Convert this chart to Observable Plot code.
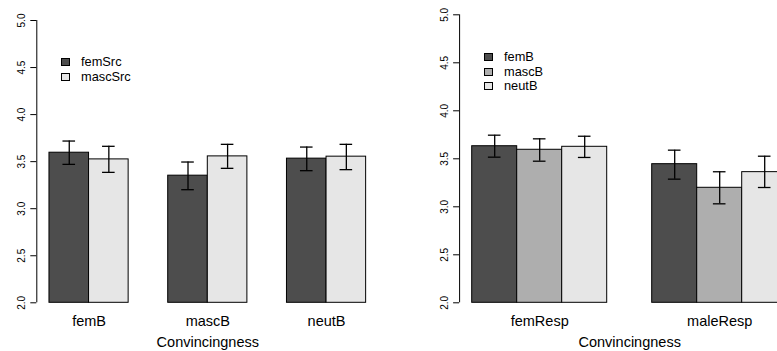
<!DOCTYPE html>
<html>
<head>
<meta charset="utf-8">
<script src="https://cdn.jsdelivr.net/npm/d3@7"></script>
<script src="https://cdn.jsdelivr.net/npm/@observablehq/plot@0.6"></script>
<style>
  html, body { margin: 0; padding: 0; background: #fff; overflow: hidden; }
  #wrap { position: relative; width: 777px; height: 351px; overflow: hidden; font-family: "Liberation Sans", Arial, Helvetica, sans-serif; }
  .panel { position: absolute; top: 0; }
  .legend { position: absolute; font-size: 12.8px; color: #000; }
  .legend .item { position: absolute; white-space: nowrap; height: 14px; line-height: 14px; }
  .legend .sw { position: absolute; left: 0; top: 3px; width: 7px; height: 6px; border: 1px solid #000; }
  .legend .lab { position: absolute; left: 20px; top: 0; }
</style>
</head>
<body>
<div id="wrap"></div>
<script>
// ---------- data ----------
const yTicks = [2.0, 2.5, 3.0, 3.5, 4.0, 4.5, 5.0];
const xTitle = "Convincingness";

// Left panel: groups on x, series = source gender
const leftGroups = ["femB", "mascB", "neutB"];
const leftSeries = ["femSrc", "mascSrc"];
const leftColors = ["#4D4D4D", "#E6E6E6"];
const leftFemSrcMean  = [3.595, 3.351, 3.532];
const leftFemSrcLow   = [3.471, 3.202, 3.404];
const leftFemSrcHigh  = [3.719, 3.496, 3.655];
const leftMascSrcMean = [3.524, 3.556, 3.553];
const leftMascSrcLow  = [3.386, 3.429, 3.415];
const leftMascSrcHigh = [3.663, 3.684, 3.684];

// Right panel: groups = respondent gender, series = bias type
const rightGroups = ["femResp", "maleResp"];
const rightSeries = ["femB", "mascB", "neutB"];
const rightColors = ["#4D4D4D", "#AEAEAE", "#E6E6E6"];
const rightFemBMean  = [3.631, 3.444];
const rightFemBLow   = [3.517, 3.288];
const rightFemBHigh  = [3.746, 3.590];
const rightMascBMean = [3.594, 3.198];
const rightMascBLow  = [3.475, 3.031];
const rightMascBHigh = [3.708, 3.365];
const rightNeutBMean = [3.625, 3.361];
const rightNeutBLow  = [3.514, 3.201];
const rightNeutBHigh = [3.735, 3.527];

// ---------- helpers ----------
function buildRows(groups, series, means, lows, highs) {
  const n = series.length;
  const rows = [];
  groups.forEach((g, gi) => {
    series.forEach((s, si) => {
      const left = 1 + gi * (n + 1) + si; // R barplot(beside=TRUE) layout
      rows.push({group: g, series: s, si, x1: left, x2: left + 1, xc: left + 0.5,
                 mean: means[si][gi], lo: lows[si][gi], hi: highs[si][gi]});
    });
  });
  return rows;
}

function panel({groups, series, colors, means, lows, highs, width, marginLeft, marginRight, marginTop}) {
  const n = series.length;
  const rows = buildRows(groups, series, means, lows, highs);
  const xmin = 1, xmax = 1 + (groups.length - 1) * (n + 1) + n;
  const pad = 0.04 * (xmax - xmin);
  const centers = groups.map((g, gi) => 1 + gi * (n + 1) + n / 2);
  const font = "Liberation Sans, Arial, Helvetica, sans-serif";
  return Plot.plot({
    width, height: 351,
    marginLeft, marginRight, marginTop, marginBottom: 48.7,
    style: {fontFamily: font, background: "white", overflow: "visible"},
    x: {domain: [xmin - pad, xmax + pad]},
    y: {domain: [2, 5]},
    color: {domain: series, range: colors},
    marks: [
      Plot.rectY(rows, {x1: "x1", x2: "x2", y1: () => 2, y2: "mean", fill: "series", stroke: "black", strokeWidth: 1}),
      Plot.ruleX(rows, {x: "xc", y1: "lo", y2: "hi", stroke: "black", strokeWidth: 1.3}),
      Plot.ruleY(rows, {x1: "xc", x2: "xc", y: "lo", insetLeft: -6.3, insetRight: -6.3, stroke: "black", strokeWidth: 1.3}),
      Plot.ruleY(rows, {x1: "xc", x2: "xc", y: "hi", insetLeft: -6.3, insetRight: -6.3, stroke: "black", strokeWidth: 1.3}),
      Plot.ruleX([xmin - pad], {y1: 2, y2: 5, stroke: "black", strokeWidth: 1}),
      Plot.axisY({ticks: yTicks, tickFormat: d => d.toFixed(1), tickSize: 6, tickPadding: 6,
                  tickRotate: -90, fontSize: 10, label: null, stroke: "black"}),
      Plot.axisX({ticks: centers, tickFormat: (d) => groups[centers.indexOf(d)], tickSize: 0,
                  tickPadding: 12.5, fontSize: 14.5, label: null}),
      Plot.text([xTitle], {frameAnchor: "bottom", dy: 40, lineAnchor: "middle", fontSize: 14.5, fill: "black"})
    ]
  });
}

function legend(series, colors, left, top) {
  const div = document.createElement("div");
  div.className = "legend";
  div.style.left = left + "px";
  div.style.top = top + "px";
  series.forEach((s, i) => {
    const item = document.createElement("div");
    item.className = "item";
    item.style.top = (i * 14.5) + "px";
    const sw = document.createElement("span");
    sw.className = "sw";
    sw.style.background = colors[i];
    const lab = document.createElement("span");
    lab.className = "lab";
    lab.textContent = s;
    item.appendChild(sw); item.appendChild(lab);
    div.appendChild(item);
  });
  return div;
}

const wrap = document.getElementById("wrap");

const leftPlot = panel({
  groups: leftGroups, series: leftSeries, colors: leftColors,
  means: [leftFemSrcMean, leftMascSrcMean],
  lows: [leftFemSrcLow, leftMascSrcLow],
  highs: [leftFemSrcHigh, leftMascSrcHigh],
  width: 390, marginLeft: 36.3, marginRight: 11.7, marginTop: 20
});
leftPlot.classList.add("panel");
leftPlot.style.left = "0px";
wrap.appendChild(leftPlot);

const rightPlot = panel({
  groups: rightGroups, series: rightSeries, colors: rightColors,
  means: [rightFemBMean, rightMascBMean, rightNeutBMean],
  lows: [rightFemBLow, rightMascBLow, rightNeutBLow],
  highs: [rightFemBHigh, rightMascBHigh, rightNeutBHigh],
  width: 420, marginLeft: 69.1, marginRight: 10.7, marginTop: 14.3
});
rightPlot.classList.add("panel");
rightPlot.style.left = "390px";
wrap.appendChild(rightPlot);

wrap.appendChild(legend(leftSeries, leftColors, 61, 55));
wrap.appendChild(legend(rightSeries, rightColors, 484, 50));
</script>
</body>
</html>
